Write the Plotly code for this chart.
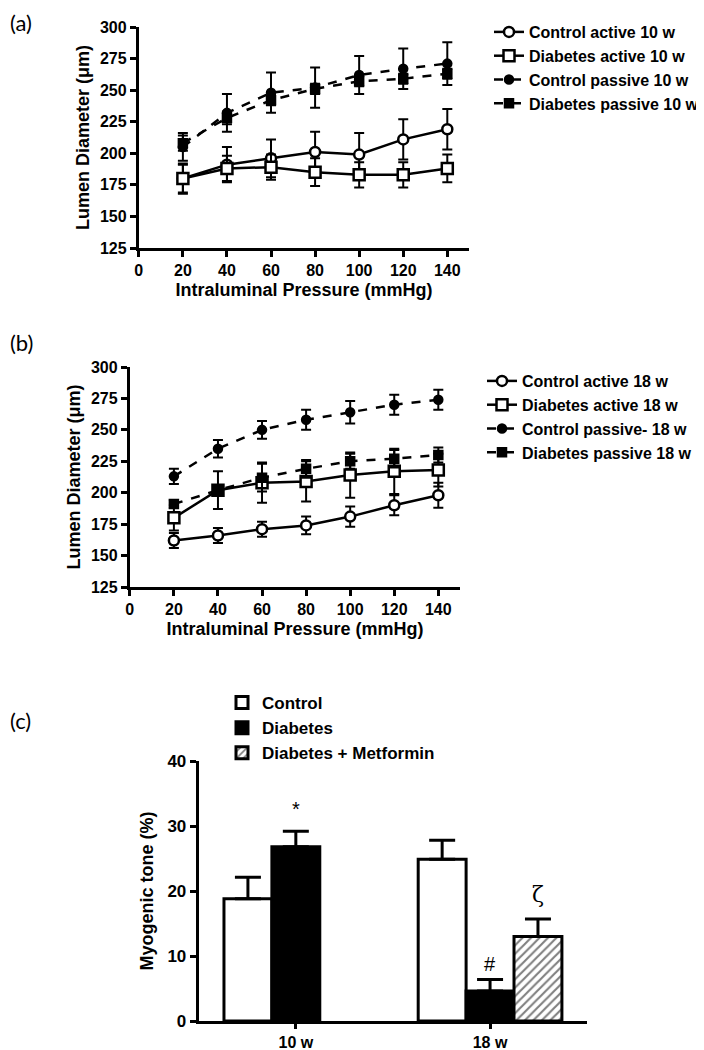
import plotly.graph_objects as go

# ---- data ----
pressure = [20, 40, 60, 80, 100, 120, 140]

# (a) 10 weeks
ctrl_act_10 = [180, 191, 196, 201, 199, 211, 219]
ctrl_act_10_err = [11, 14, 15, 16, 17, 16, 16]
diab_act_10 = [180, 188, 189, 185, 183, 183, 188]
diab_act_10_err = [12, 10, 10, 11, 10, 10, 11]
ctrl_pas_10 = [205, 232, 248, 252, 262, 267, 271]
ctrl_pas_10_err = [11, 15, 16, 16, 15, 16, 17]
diab_pas_10 = [208, 228, 242, 251, 257, 259, 263]
diab_pas_10_err = [6, 5, 4, 4, 4, 4, 4]

# (b) 18 weeks
ctrl_act_18 = [162, 166, 171, 174, 181, 190, 198]
ctrl_act_18_err = [6, 6, 6, 7, 8, 8, 10]
diab_act_18 = [180, 202, 208, 209, 214, 217, 218]
diab_act_18_err = [10, 15, 16, 16, 18, 18, 13]
ctrl_pas_18 = [213, 235, 250, 258, 264, 270, 274]
ctrl_pas_18_err = [6, 7, 7, 8, 9, 8, 8]
diab_pas_18 = [191, 202, 212, 219, 225, 227, 230]
diab_pas_18_err = [3, 4, 11, 7, 6, 7, 6]

# (c) myogenic tone
groups = ["10 w", "18 w"]
tone_ctrl = [18.8, 24.9]
tone_ctrl_err = [3.3, 2.9]
tone_diab = [26.8, 4.6]
tone_diab_err = [2.4, 1.8]
tone_metf = [None, 13.0]
tone_metf_err = [0, 2.7]

# the page adds an 8 px body margin, so the figure is a bit smaller
W, H = 696, 1042
OFF = 8
FONT = "Liberation Sans"


def px_x(p):
    return (p - OFF) / W


def px_y(p):
    return 1 - (p - OFF) / H


fig = go.Figure()


def add_lines(xa, ya, legend, series):
    for name, y, err, sym, size, dash, fill in series:
        fig.add_trace(
            go.Scatter(
                x=pressure,
                y=y,
                name=name,
                mode="lines+markers",
                xaxis=xa,
                yaxis=ya,
                legend=legend,
                line=dict(color="black", width=2.5, dash=dash),
                marker=dict(
                    symbol=sym,
                    size=size,
                    color=fill,
                    line=dict(color="black", width=2.5),
                ),
                error_y=dict(
                    type="data", array=err, color="black", thickness=2, width=5
                ),
            )
        )


add_lines(
    "x", "y", "legend",
    [
        ("Control active 10 w", ctrl_act_10, ctrl_act_10_err, "circle", 10, "solid", "white"),
        ("Diabetes active 10 w", diab_act_10, diab_act_10_err, "square", 11, "solid", "white"),
        ("Control passive 10 w", ctrl_pas_10, ctrl_pas_10_err, "circle", 8, "dash", "black"),
        ("Diabetes passive 10 w", diab_pas_10, diab_pas_10_err, "square", 8, "dash", "black"),
    ],
)
add_lines(
    "x2", "y2", "legend2",
    [
        ("Control active 18 w", ctrl_act_18, ctrl_act_18_err, "circle", 10, "solid", "white"),
        ("Diabetes active 18 w", diab_act_18, diab_act_18_err, "square", 11, "solid", "white"),
        ("Control passive- 18 w", ctrl_pas_18, ctrl_pas_18_err, "circle", 8, "dash", "black"),
        ("Diabetes passive 18 w", diab_pas_18, diab_pas_18_err, "square", 8, "dash", "black"),
    ],
)

# bars
bar_err = dict(type="data", symmetric=False, color="black", thickness=3, width=13)
fig.add_trace(
    go.Bar(
        x=groups, y=tone_ctrl, name="Control", xaxis="x3", yaxis="y3",
        legend="legend3",
        marker=dict(color="white", line=dict(color="black", width=3)),
        error_y=dict(bar_err, array=tone_ctrl_err, arrayminus=[0, 0]),
    )
)
fig.add_trace(
    go.Bar(
        x=groups, y=tone_diab, name="Diabetes", xaxis="x3", yaxis="y3",
        legend="legend3",
        marker=dict(color="black", line=dict(color="black", width=3)),
        error_y=dict(bar_err, array=tone_diab_err, arrayminus=[0, 0]),
    )
)
fig.add_trace(
    go.Bar(
        x=groups, y=tone_metf, name="Diabetes + Metformin", xaxis="x3",
        yaxis="y3", legend="legend3",
        marker=dict(
            color="white",
            line=dict(color="black", width=3),
            pattern=dict(shape="/", fgcolor="black", bgcolor="white",
                         size=6, solidity=0.35),
        ),
        error_y=dict(bar_err, array=tone_metf_err, arrayminus=[0, 0]),
    )
)

axis_style = dict(
    showline=True, linecolor="black", linewidth=3, ticks="outside",
    ticklen=6, tickwidth=2.5, tickcolor="black", showgrid=False,
    zeroline=False, automargin=False,
    tickfont=dict(family=FONT, size=16, color="black", weight="bold"),
)
title_font = dict(family=FONT, size=18, color="black", weight="bold")
legend_font = dict(family=FONT, size=16, color="black", weight="bold")

fig.update_layout(
    width=W, height=H,
    margin=dict(l=0, r=0, t=0, b=0),
    plot_bgcolor="white", paper_bgcolor="white",
    barmode="group", bargap=0.26, bargroupgap=0,
    xaxis=dict(axis_style, domain=[px_x(139), px_x(470)], range=[0, 150],
               tickvals=[0, 20, 40, 60, 80, 100, 120, 140], anchor="y",
               title=dict(text="Intraluminal Pressure (mmHg)", font=title_font, standoff=6)),
    yaxis=dict(axis_style, domain=[px_y(248), px_y(27)], range=[125, 300],
               dtick=25, anchor="x",
               title=dict(text="Lumen Diameter (μm)", font=title_font, standoff=6)),
    xaxis2=dict(axis_style, domain=[px_x(130), px_x(461)], range=[0, 150],
                tickvals=[0, 20, 40, 60, 80, 100, 120, 140], anchor="y2",
                title=dict(text="Intraluminal Pressure (mmHg)", font=title_font, standoff=6)),
    yaxis2=dict(axis_style, domain=[px_y(587), px_y(367)], range=[125, 300],
                dtick=25, anchor="x2",
                title=dict(text="Lumen Diameter (μm)", font=title_font, standoff=6)),
    xaxis3=dict(axis_style, domain=[px_x(199), px_x(588)], range=[-0.5, 1.5],
                anchor="y3", ticklen=5,
                tickfont=dict(family=FONT, size=16, color="black", weight="bold")),
    yaxis3=dict(axis_style, domain=[px_y(1021), px_y(761)], range=[0, 40],
                dtick=10, anchor="x3",
                tickfont=dict(family=FONT, size=17, color="black", weight="bold"),
                title=dict(text="Myogenic tone (%)",
                           font=dict(family=FONT, size=18, color="black", weight="bold"),
                           standoff=10)),
    legend=dict(x=px_x(490), y=px_y(15), xanchor="left", yanchor="top",
                font=legend_font, bgcolor="rgba(0,0,0,0)", tracegroupgap=0),
    legend2=dict(x=px_x(482), y=px_y(364), xanchor="left", yanchor="top",
                 font=legend_font, bgcolor="rgba(0,0,0,0)", tracegroupgap=0),
    legend3=dict(x=px_x(222), y=px_y(685), xanchor="left", yanchor="top",
                 font=dict(family=FONT, size=17, color="black", weight="bold"),
                 bgcolor="rgba(0,0,0,0)", tracegroupgap=0),
)

# panel letters
label_font = dict(family="Lato", size=22, color="black")
for txt, y in [("(a)", 22), ("(b)", 343), ("(c)", 720)]:
    fig.add_annotation(text=txt, x=0, y=px_y(y), xref="paper", yref="paper",
                       xanchor="left", yanchor="middle", showarrow=False, font=label_font)

# significance marks
mark_font = dict(family=FONT, size=20, color="black")
fig.add_annotation(text="*", x="10 w", y=32.6, xref="x3", yref="y3", showarrow=False,
                   font=mark_font)
fig.add_annotation(text="#", x="18 w", y=8.7, xref="x3", yref="y3", showarrow=False,
                   font=mark_font)
fig.add_annotation(text="ζ", x="18 w", y=19.5, xref="x3", yref="y3", xshift=48,
                   showarrow=False, font=dict(family="DejaVu Serif", size=22, color="black"))

fig.write_html("out.html")
